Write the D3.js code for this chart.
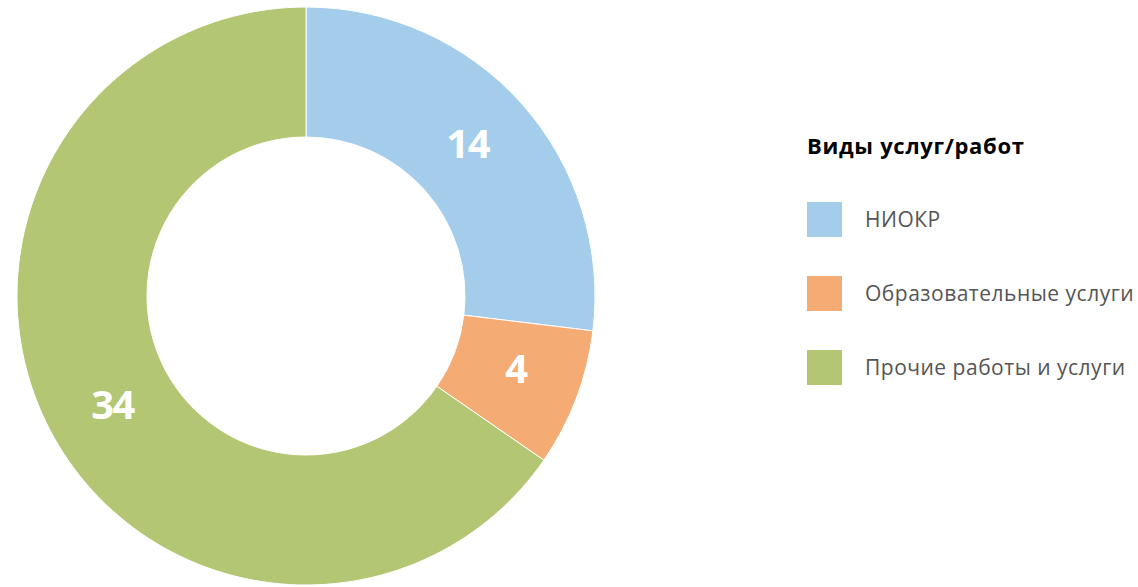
<!DOCTYPE html>
<html>
<head>
<meta charset="utf-8">
<script src="https://cdn.jsdelivr.net/npm/d3@7"></script>
<style>
  body { margin: 0; background: #fff; }
  svg { display: block; font-family: "Open Sans", sans-serif; }
</style>
</head>
<body>
<script>
// data
var categories = ["НИОКР", "Образовательные услуги", "Прочие работы и услуги"];
var values = [14, 4, 34];
var colors = ["#a3cdea", "#f5ab74", "#b2c673"];
var legendTitle = "Виды услуг/работ";

var width = 1138, height = 587;
var cx = 306, cy = 296, outerR = 289, innerR = 159;

var svg = d3.select("body").append("svg")
    .attr("width", width)
    .attr("height", height);

var pie = d3.pie().sort(null).value(function(d) { return d; });
var arc = d3.arc().innerRadius(innerR).outerRadius(outerR);
var color = d3.scaleOrdinal().domain(categories).range(colors);

var g = svg.append("g").attr("transform", "translate(" + cx + "," + cy + ")");

var slices = pie(values);

g.selectAll("path.slice")
    .data(slices)
  .enter().append("path")
    .attr("class", "slice")
    .attr("d", arc)
    .attr("fill", function(d, i) { return color(categories[i]); })
    .attr("stroke", "#fff")
    .attr("stroke-width", 1);

// labels sit a little before the mid angle, as in the original
var labelArc = d3.arc().innerRadius(222).outerRadius(222);

g.selectAll("text.value")
    .data(slices)
  .enter().append("text")
    .attr("class", "value")
    .attr("transform", function(d) {
      var m = (d.startAngle + d.endAngle) / 2 - 0.03;
      return "translate(" + labelArc.centroid({startAngle: m, endAngle: m}) + ")";
    })
    .attr("text-anchor", "middle")
    .attr("dy", "0.36em")
    .attr("fill", "#fff")
    .attr("font-size", 40)
    .attr("font-weight", 700)
    .attr("letter-spacing", -1.5)
    .text(function(d) { return d.data; });

// legend
var legend = svg.append("g").attr("transform", "translate(807,0)");

legend.append("text")
    .attr("x", 0)
    .attr("y", 154)
    .attr("font-size", 22)
    .attr("font-weight", 700)
    .attr("letter-spacing", 0.7)
    .attr("fill", "#000")
    .text(legendTitle);

var ly = d3.scalePoint().domain(categories).range([220, 368]);

var item = legend.selectAll("g.item")
    .data(categories)
  .enter().append("g")
    .attr("class", "item")
    .attr("transform", function(d) { return "translate(0," + ly(d) + ")"; });

item.append("rect")
    .attr("x", 0)
    .attr("y", -18)
    .attr("width", 35)
    .attr("height", 35)
    .attr("fill", function(d) { return color(d); });

item.append("text")
    .attr("x", 58)
    .attr("dy", "0.35em")
    .attr("font-size", 21)
    .attr("letter-spacing", 0.5)
    .attr("fill", "#555")
    .text(function(d) { return d; });
</script>
</body>
</html>
